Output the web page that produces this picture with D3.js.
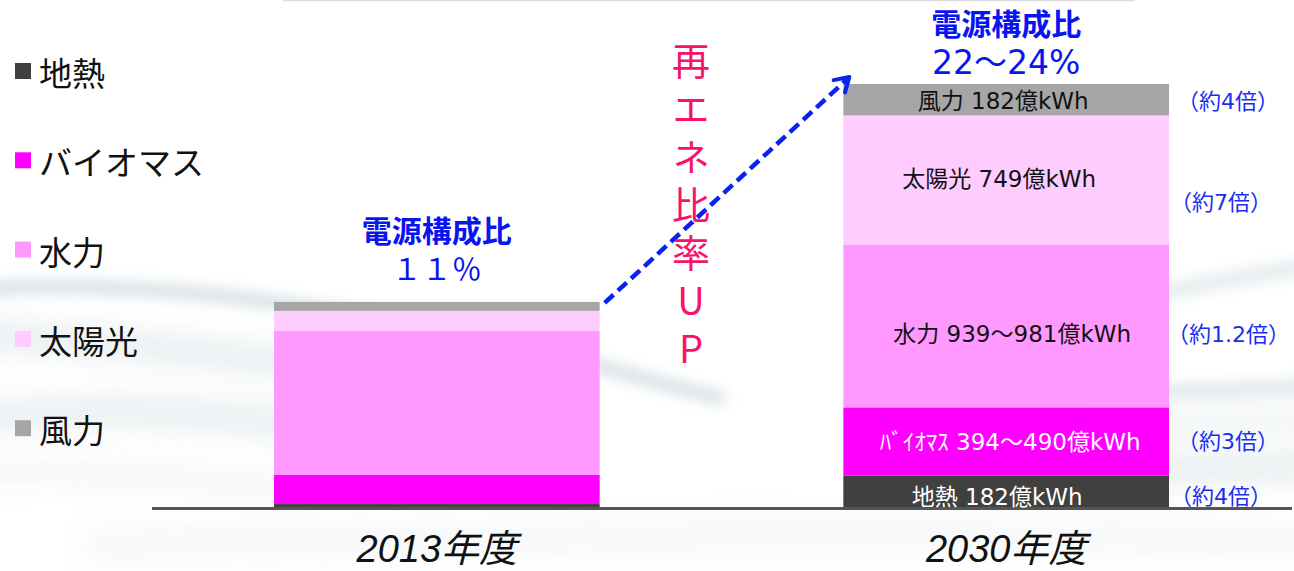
<!DOCTYPE html>
<html lang="ja">
<head>
<meta charset="utf-8">
<script src="https://cdn.jsdelivr.net/npm/d3@7"></script>
<style>
  html, body { margin: 0; padding: 0; background: #ffffff; }
  svg { display: block; }
  text { font-family: "DejaVu Sans", "Noto Sans CJK JP", sans-serif; }
</style>
</head>
<body>
<svg id="chart" width="1294" height="571"></svg>
<script>
// ---- data ----
const categories = ["2013年度", "2030年度"];
// stacking order, bottom to top
const sources = ["地熱", "バイオマス", "水力", "太陽光", "風力"];
const sourceColors = ["#404040", "#ff00ff", "#ff99ff", "#ffccff", "#a6a6a6"];
// 億kWh
const values2013 = [17, 168, 833, 116, 52];
const values2030 = [182, 394, 939, 749, 182];
const labels2030 = ["地熱 182億kWh", "ﾊﾞｲｵﾏｽ 394～490億kWh", "水力 939～981億kWh", "太陽光 749億kWh", "風力 182億kWh"];
const ratioLabels = ["（約4倍）", "（約3倍）", "（約1.2倍）", "（約7倍）", "（約4倍）"];
const shareTitles = ["電源構成比", "電源構成比"];
const shareValues = ["１１％", "22～24%"];
const upCaption = "再エネ比率UP";

// ---- layout ----
const W = 1294, H = 571;
const baseY = 507;
const svg = d3.select("#chart");
const defs = svg.append("defs");

// soft cloudy backdrop
[["soft", 7], ["softer", 14]].forEach(([id, s]) => {
  defs.append("filter").attr("id", id)
    .attr("filterUnits", "userSpaceOnUse")
    .attr("x", -100).attr("y", -100).attr("width", W + 200).attr("height", H + 200)
    .append("feGaussianBlur").attr("stdDeviation", s);
});

const bg = svg.append("g");
bg.append("rect").attr("width", W).attr("height", H).attr("fill", "#ffffff");
const streaks = [
  { d: "M-40,290 C120,280 260,296 420,326 S640,380 720,398", w: 12, o: 0.7, f: "soft" },
  { d: "M-40,335 C150,342 300,362 460,392", w: 26, o: 0.4, f: "softer" },
  { d: "M-40,420 C100,405 220,410 330,432", w: 30, o: 0.35, f: "softer" },
  { d: "M-40,472 C120,470 220,480 300,492", w: 18, o: 0.25, f: "softer" },
  { d: "M1120,300 C1180,290 1240,275 1340,262", w: 14, o: 0.45, f: "soft" },
  { d: "M1100,392 C1170,392 1240,390 1340,385", w: 14, o: 0.5, f: "soft" },
  { d: "M1100,470 C1170,470 1240,468 1340,466", w: 28, o: 0.38, f: "softer" },
  { d: "M1100,430 C1170,425 1240,420 1340,418", w: 20, o: 0.3, f: "softer" },
  { d: "M100,545 C500,535 900,532 1340,540", w: 36, o: 0.14, f: "softer" }
];
bg.selectAll("path.streak").data(streaks).join("path")
  .attr("class", "streak")
  .attr("d", d => d.d)
  .attr("fill", "none")
  .attr("stroke", "#c0cfd5")
  .attr("stroke-width", d => d.w)
  .attr("stroke-linecap", "round")
  .attr("opacity", d => d.o)
  .attr("filter", d => `url(#${d.f})`);

// thin rule along the top edge
svg.append("line").attr("x1", 283).attr("x2", 1135).attr("y1", 0.5).attr("y2", 0.5)
  .attr("stroke", "#dcdcdc").attr("stroke-width", 1.5);

// ---- scales ----
const rows = categories.map((c, i) => {
  const vals = i === 0 ? values2013 : values2030;
  const r = { category: c };
  sources.forEach((s, j) => { r[s] = vals[j]; });
  return r;
});
const stacked = d3.stack().keys(sources)(rows);
const total2013 = d3.sum(values2013);
const total2030 = d3.sum(values2030);

const x = d3.scaleBand().domain(categories).range([274, 1169]).paddingInner(0.428);
const y = d3.scaleLinear().domain([0, total2030]).range([baseY, 84]);
const color = d3.scaleOrdinal().domain(sources).range(sourceColors);

// ---- bars ----
svg.append("g").selectAll("g").data(stacked).join("g")
  .attr("fill", d => color(d.key))
  .selectAll("rect").data(d => d).join("rect")
  .attr("x", d => x(d.data.category))
  .attr("width", x.bandwidth())
  .attr("y", d => y(d[1]))
  .attr("height", d => y(d[0]) - y(d[1]));

// baseline
svg.append("line").attr("x1", 152).attr("x2", 1292).attr("y1", baseY + 1.5).attr("y2", baseY + 1.5)
  .attr("stroke", "#555555").attr("stroke-width", 3);

// category axis
const xAxis = svg.append("g").attr("transform", `translate(0,${baseY})`)
  .call(d3.axisBottom(x).tickSize(0).tickPadding(28));
xAxis.select(".domain").remove();
xAxis.selectAll("text")
  .attr("fill", "#111")
  .style("font-size", "38px")
  .style("font-style", "italic")
  .style("font-family", "\"Liberation Sans\", \"Noto Sans CJK JP\", sans-serif");

// ---- in-bar labels for 2030 ----
const bar2030 = stacked.map(s => s[1]);
const labelShift = [5, 0, 8, -2, 1];
const labelDx = [-9, 4, 6, -7, -3];
const labelTextColor = ["#ffffff", "#ffffff", "#111111", "#111111", "#111111"];
const cx2030 = x("2030年度") + x.bandwidth() / 2;
svg.append("g").selectAll("text").data(bar2030).join("text")
  .attr("x", (d, i) => cx2030 + labelDx[i])
  .attr("y", (d, i) => (y(d[0]) + y(d[1])) / 2 + labelShift[i])
  .attr("dy", "0.36em")
  .attr("text-anchor", "middle")
  .attr("fill", (d, i) => labelTextColor[i])
  .style("font-size", "23px")
  .text((d, i) => labels2030[i]);

// growth ratios beside the 2030 bar
const ratioShift = [5, 0, 8, 22, 1];
const ratioX = [1170, 1177, 1167, 1170, 1177];
svg.append("g").selectAll("text").data(bar2030).join("text")
  .attr("x", (d, i) => ratioX[i])
  .attr("y", (d, i) => (y(d[0]) + y(d[1])) / 2 + ratioShift[i])
  .attr("dy", "0.36em")
  .attr("fill", "#1a2ef0")
  .style("font-size", "22px")
  .text((d, i) => ratioLabels[i]);

// ---- share headings above each bar ----
const tops = [total2013, total2030];
const headG = svg.append("g").selectAll("g").data(categories).join("g")
  .attr("transform", (c, i) => `translate(${x(c) + x.bandwidth() / 2},${y(tops[i])})`);
headG.append("text")
  .attr("y", (c, i) => i === 0 ? -60 : -49)
  .attr("text-anchor", "middle")
  .attr("fill", "#0a14f0")
  .style("font-weight", "bold")
  .style("font-size", "30px")
  .style("font-family", "\"Noto Sans CJK JP\", sans-serif")
  .text((c, i) => shareTitles[i]);
headG.append("text")
  .attr("y", (c, i) => i === 0 ? -22 : -10)
  .attr("text-anchor", "middle")
  .attr("fill", "#0a14f0")
  .style("font-size", (c, i) => i === 0 ? "30px" : "33px")
  .text((c, i) => shareValues[i]);

// ---- dashed arrow between the bar tops ----
const ax0 = x("2013年度") + x.bandwidth() + 5, ay0 = y(total2013) + 1;
const ax1 = x("2030年度") + 6, ay1 = y(total2030) - 7;
const arrowColor = "#0a22ee";
svg.append("line")
  .attr("x1", ax0).attr("y1", ay0).attr("x2", ax1 - 3).attr("y2", ay1 + 3)
  .attr("stroke", arrowColor).attr("stroke-width", 4.5)
  .attr("stroke-dasharray", "12,6");
const ang = Math.atan2(ay1 - ay0, ax1 - ax0);
const head = 16, spread = 0.55;
svg.append("path")
  .attr("d", `M${ax1 - head * Math.cos(ang - spread)},${ay1 - head * Math.sin(ang - spread)} L${ax1},${ay1} L${ax1 - head * Math.cos(ang + spread)},${ay1 - head * Math.sin(ang + spread)}`)
  .attr("fill", "none").attr("stroke", arrowColor).attr("stroke-width", 4)
  .attr("stroke-linecap", "round").attr("stroke-linejoin", "round");

// vertical caption
svg.append("text")
  .attr("x", 691)
  .attr("y", 42)
  .attr("fill", "#f7126a")
  .style("font-size", "38px")
  .style("font-family", "\"Noto Sans CJK JP\", sans-serif")
  .style("writing-mode", "vertical-rl")
  .style("text-orientation", "upright")
  .style("letter-spacing", "10px")
  .text(upCaption);

// ---- legend ----
const legend = svg.append("g").selectAll("g").data(sources).join("g")
  .attr("transform", (d, i) => `translate(15,${86 + i * 89.3})`);
legend.append("rect")
  .attr("y", -23).attr("width", 16).attr("height", 16)
  .attr("fill", d => color(d));
legend.append("text")
  .attr("x", 24)
  .attr("fill", "#111")
  .style("font-size", "33px")
  .style("font-family", "\"Noto Sans CJK JP\", sans-serif")
  .text(d => d);
</script>
</body>
</html>
